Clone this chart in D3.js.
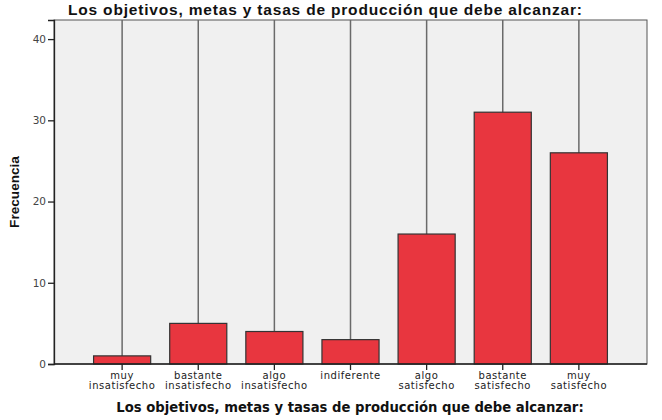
<!DOCTYPE html>
<html><head><meta charset="utf-8">
<script src="https://cdn.jsdelivr.net/npm/d3@7"></script>
<style>body{margin:0;background:#fff}svg{display:block}</style>
</head><body><svg id="c" width="662" height="420"></svg>
<script>
const categories = [
  ["muy","insatisfecho"],
  ["bastante","insatisfecho"],
  ["algo","insatisfecho"],
  ["indiferente"],
  ["algo","satisfecho"],
  ["bastante","satisfecho"],
  ["muy","satisfecho"]
];
const values = [1, 5, 4, 3, 16, 31, 26];
const yTicks = [0, 10, 20, 30, 40];
const title = "Los objetivos, metas y tasas de producción que debe alcanzar:";
const yLabel = "Frecuencia";

const svg = d3.select("#c");
const L = 54, R = 647, T = 20, B = 364;
const keys = categories.map((d,i)=>i);
const x = d3.scaleBand().domain(keys).range([L, R]).paddingInner(0.25).paddingOuter(0.52);
const y = d3.scaleLinear().domain([0, 42.35]).range([B, T]);

svg.append("rect").attr("x", L).attr("y", T).attr("width", R-L).attr("height", B-T)
  .attr("fill", "#f0f0f0").attr("stroke", "#555").attr("stroke-width", 1);

// category center lines
svg.append("g").selectAll("line").data(keys).join("line")
  .attr("x1", d=>x(d)+x.bandwidth()/2).attr("x2", d=>x(d)+x.bandwidth()/2)
  .attr("y1", T).attr("y2", B)
  .attr("stroke", "#6a6a6a").attr("stroke-width", 1.5);

svg.append("g").selectAll("rect").data(values).join("rect")
  .attr("x", (d,i)=>x(i)).attr("width", x.bandwidth())
  .attr("y", d=>y(d)).attr("height", d=>B-y(d))
  .attr("fill", "#e8363f").attr("stroke", "#333").attr("stroke-width", 1.2);

// y axis
const ya = svg.append("g").attr("transform", `translate(${L},0)`)
  .call(d3.axisLeft(y).tickValues(yTicks).tickSize(6).tickPadding(2).tickFormat(d3.format("d")));
ya.select(".domain").attr("stroke", "#222").attr("stroke-width", 1.3);
ya.selectAll(".tick line").attr("stroke", "#222").attr("stroke-width", 1.3);
ya.selectAll("text").attr("font-family", "DejaVu Sans").attr("font-size", 10.5).attr("fill", "#444");

// x axis
const xa = svg.append("g").attr("transform", `translate(0,${B})`)
  .call(d3.axisBottom(x).tickSize(6).tickFormat(""));
xa.select(".domain").attr("stroke", "#222").attr("stroke-width", 1.3).attr("d", `M${L},0H${R}`);
xa.selectAll(".tick line").attr("stroke", "#222").attr("stroke-width", 1.3);
xa.selectAll(".tick").each(function(d){
  const t = d3.select(this).append("text").attr("fill", "#222")
    .attr("font-family", "DejaVu Sans").attr("font-size", 10).attr("letter-spacing", 0.55)
    .attr("text-anchor", "middle");
  categories[d].forEach((s, j)=>{
    t.append("tspan").attr("x", 0).attr("y", 15 + j*10).text(s);
  });
});

svg.append("text").attr("x", 325).attr("y", 15).attr("text-anchor", "middle")
  .attr("font-family", "Liberation Sans, Arial").attr("font-weight", "bold").attr("font-size", 15.5)
  .attr("textLength", 514).attr("lengthAdjust", "spacing")
  .attr("fill", "#111").text(title);

svg.append("text").attr("x", 350).attr("y", 412).attr("text-anchor", "middle")
  .attr("font-family", "DejaVu Sans").attr("font-weight", "bold").attr("font-size", 13.2)
  .attr("fill", "#111").text(title);

svg.append("text").attr("transform", "translate(18.5,192) rotate(-90)").attr("text-anchor", "middle")
  .attr("font-family", "Liberation Sans Narrow, Liberation Sans").attr("font-weight", "bold").attr("font-size", 13.6)
  .attr("fill", "#111").text(yLabel);
</script></body></html>
